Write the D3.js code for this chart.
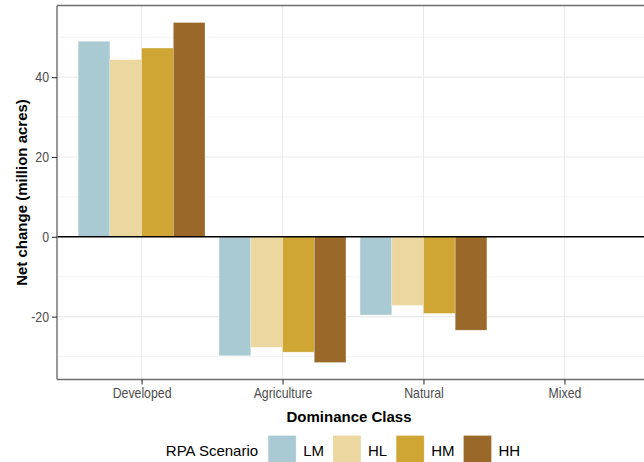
<!DOCTYPE html>
<html>
<head>
<meta charset="utf-8">
<script src="https://cdn.jsdelivr.net/npm/d3@7"></script>
<style>
  html, body { margin: 0; padding: 0; background: #fff; }
  svg { display: block; }
</style>
</head>
<body>
<svg id="chart" width="644" height="462"></svg>
<script>
// ---- data ----
const categories = ["Developed", "Agriculture", "Natural", "Mixed"];
const scenarios = ["LM", "HL", "HM", "HH"];
const colors = ["#a9c9d3", "#ecd7a0", "#cfa634", "#9a6829"];
const valuesLM = [49.0, -29.8, -19.6, null];
const valuesHL = [44.4, -27.7, -17.2, null];
const valuesHM = [47.3, -28.9, -19.2, null];
const valuesHH = [53.7, -31.5, -23.4, null];
const yTicks = [-20, 0, 20, 40];
const yMinorTicks = [-30, -10, 10, 30, 50];
const xTitle = "Dominance Class";
const yTitle = "Net change (million acres)";
const legendTitle = "RPA Scenario";

const series = [valuesLM, valuesHL, valuesHM, valuesHH];

// ---- layout ----
const svg = d3.select("#chart");
const panel = { left: 57, top: 5.5, bottom: 379.5, right: 649 };

const x = d3.scalePoint().domain(categories).range([panel.left, panel.right]).padding(0.6);
const step = x.step();
const xDodge = d3.scaleBand().domain(scenarios).range([-0.45 * step, 0.45 * step]).padding(0);

const allVals = series.flat().filter(v => v != null).concat([0]);
const vmin = d3.min(allVals), vmax = d3.max(allVals);
const pad = (vmax - vmin) * 0.05;
const y = d3.scaleLinear().domain([vmin - pad, vmax + pad]).range([panel.bottom, panel.top]);

const g = svg.append("g");

// grid minor
g.selectAll("line.minor").data(yMinorTicks).join("line")
  .attr("x1", panel.left).attr("x2", 644)
  .attr("y1", d => y(d)).attr("y2", d => y(d))
  .attr("stroke", "#f2f2f2").attr("stroke-width", 0.8);
// grid major horizontal
g.selectAll("line.majorh").data(yTicks).join("line")
  .attr("x1", panel.left).attr("x2", 644)
  .attr("y1", d => y(d)).attr("y2", d => y(d))
  .attr("stroke", "#ebebeb").attr("stroke-width", 1.1);
// grid major vertical
g.selectAll("line.majorv").data(categories).join("line")
  .attr("x1", d => x(d)).attr("x2", d => x(d))
  .attr("y1", panel.top).attr("y2", panel.bottom)
  .attr("stroke", "#ebebeb").attr("stroke-width", 1.1);

// bars
const barData = [];
categories.forEach((c, i) => {
  scenarios.forEach((s, j) => {
    const v = series[j][i];
    if (v != null) barData.push({ c, s, v, color: colors[j] });
  });
});
g.selectAll("rect.bar").data(barData).join("rect")
  .attr("x", d => x(d.c) + xDodge(d.s))
  .attr("width", xDodge.bandwidth())
  .attr("y", d => y(Math.max(0, d.v)))
  .attr("height", d => Math.abs(y(d.v) - y(0)))
  .attr("fill", d => d.color)
  .attr("stroke", "#ffffff").attr("stroke-opacity", 0.45).attr("stroke-width", 0.6);

// zero line
g.append("line")
  .attr("x1", panel.left).attr("x2", 644)
  .attr("y1", y(0)).attr("y2", y(0))
  .attr("stroke", "#000").attr("stroke-width", 1.4);

// panel border (left, top, bottom)
const borderColor = "#6e6e6e";
g.append("line").attr("x1", panel.left).attr("x2", panel.left).attr("y1", panel.top).attr("y2", panel.bottom)
  .attr("stroke", borderColor).attr("stroke-width", 1.4);
g.append("line").attr("x1", panel.left).attr("x2", 644).attr("y1", panel.top).attr("y2", panel.top)
  .attr("stroke", borderColor).attr("stroke-width", 1.4);
g.append("line").attr("x1", panel.left).attr("x2", 644).attr("y1", panel.bottom).attr("y2", panel.bottom)
  .attr("stroke", borderColor).attr("stroke-width", 1.4);

// axes
const tickFont = "'Liberation Sans', Arial, sans-serif";
function narrow(sel) {
  sel.each(function () {
    const w = this.getComputedTextLength();
    d3.select(this).attr("textLength", w * 0.82).attr("lengthAdjust", "spacingAndGlyphs");
  });
}
const yAxis = d3.axisLeft(y).tickValues(yTicks).tickSize(5).tickPadding(3).tickFormat(d => String(d));
const ya = svg.append("g").attr("transform", `translate(${panel.left},0)`).call(yAxis);
ya.select(".domain").remove();
ya.selectAll(".tick line").attr("stroke", "#333").attr("stroke-width", 1.1);
ya.selectAll(".tick text").attr("fill", "#4d4d4d").style("font-family", tickFont).style("font-size", "15px").call(narrow);

const xAxis = d3.axisBottom(x).tickSize(5).tickPadding(3);
const xa = svg.append("g").attr("transform", `translate(0,${panel.bottom})`).call(xAxis);
xa.select(".domain").remove();
xa.selectAll(".tick line").attr("stroke", "#333").attr("stroke-width", 1.1);
xa.selectAll(".tick text").attr("fill", "#4d4d4d").style("font-family", tickFont).style("font-size", "15px").call(narrow);

// titles
const titleFont = "'Liberation Sans', Arial, sans-serif";
svg.append("text").text(xTitle)
  .attr("x", 349).attr("y", 421.5).attr("text-anchor", "middle")
  .style("font-family", titleFont).style("font-size", "15px").style("font-weight", "bold").attr("fill", "#000");
svg.append("text").text(yTitle)
  .attr("transform", `translate(27,${(panel.top + panel.bottom) / 2}) rotate(-90)`)
  .attr("text-anchor", "middle")
  .style("font-family", titleFont).style("font-size", "15px").style("font-weight", "bold").attr("fill", "#000");

// legend
const lg = svg.append("g");
const keyW = 28, keyH = 27, keyY = 435.5, textY = 455.5;
const lt = lg.append("text").text(legendTitle).attr("y", textY)
  .style("font-family", titleFont).style("font-size", "15px").attr("fill", "#000");
let cx = lt.node().getComputedTextLength() + 10;
scenarios.forEach((s, j) => {
  lg.append("rect").attr("x", cx).attr("y", keyY).attr("width", keyW).attr("height", keyH)
    .attr("fill", colors[j]).attr("stroke", "#fff").attr("stroke-opacity", 0.45).attr("stroke-width", 0.6);
  cx += keyW + 7;
  const t = lg.append("text").text(s).attr("x", cx).attr("y", textY)
    .style("font-family", titleFont).style("font-size", "15px").attr("fill", "#000");
  cx += t.node().getComputedTextLength();
  if (j < scenarios.length - 1) cx += 9;
});
const legendCenter = 343;
lg.attr("transform", `translate(${legendCenter - cx / 2},0)`);
</script>
</body>
</html>
